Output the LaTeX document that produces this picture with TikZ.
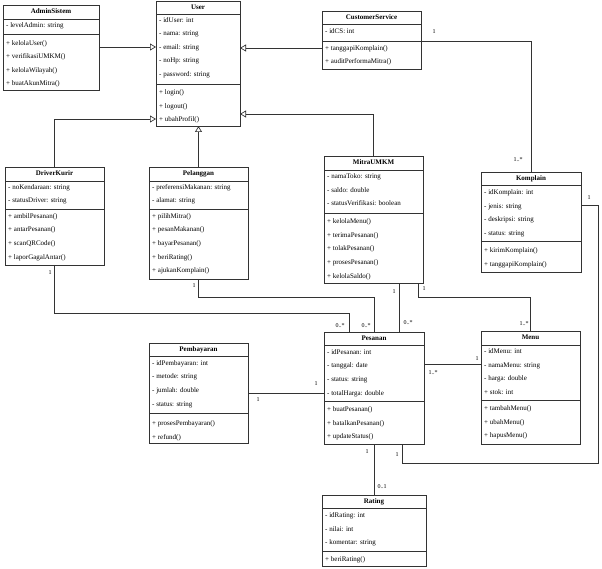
\documentclass[tikz,border=0pt]{standalone}
\usepackage{fontspec}
\setmainfont{Liberation Serif}
\usetikzlibrary{arrows.meta}
\tikzset{
 classbox/.style={draw=black!80, line width=0.7pt, fill=white, inner sep=0pt, outer sep=0pt},
 divline/.style={draw=black!80, line width=0.7pt},
 rowtext/.style={anchor=west, inner sep=0pt, font=\fontsize{7}{8}\selectfont, text height=5pt, text depth=1.6pt},
 titletext/.style={inner sep=0pt, font=\fontsize{7}{8}\selectfont\bfseries, text height=5pt, text depth=1.6pt},
 assoc/.style={draw=black!80, line width=0.7pt},
 gen/.style={assoc, -{Triangle[open, length=6pt, width=7pt]}},
 mult/.style={inner sep=0pt, font=\fontsize{6}{7}\selectfont},
}
\newcommand\umlclass[8]{%
  \node[classbox, minimum width={#4-#2}, minimum height={#5-#3}] (#1) at ({(#2+#4)/2},{(#3+#5)/2}) {};
  \node[titletext] (#1-title) at ({(#2+#4)/2},{(#3+#7)/2}) {#6};
  \draw[divline] (#1.west |- 0,#7) -- (#1.east |- 0,#7);
  \draw[divline] (#1.west |- 0,#8) -- (#1.east |- 0,#8);
}
\newcommand\umlrows[4]{%
  \foreach \t [count=\i] in {#4} {\node[rowtext] (#1\i) at ({#2+3},{#3+(\i-1)*13.6}) {\t};}
}
\begin{document}
\begin{tikzpicture}[x=1pt,y=-1pt]
\fill[white] (0,0) rectangle (602,569);
\useasboundingbox (0,0) rectangle (602,569);

% classes
\umlclass{admin}{3}{5}{99}{90}{AdminSistem}{19}{34}
\umlrows{admin-a}{3}{26}{- levelAdmin: string}
\umlrows{admin-m}{3}{43.5}{+ kelolaUser(),+ verifikasiUMKM(),+ kelolaWilayah(),+ buatAkunMitra()}

\umlclass{user}{156}{1}{240}{126}{User}{14}{84}
\umlrows{user-a}{156}{20.5}{- idUser: int,- nama: string,- email: string,- noHp: string,- password: string}
\umlrows{user-m}{156}{93}{+ login(),+ logout(),+ ubahProfil()}

\umlclass{cs}{322}{11}{421}{69}{CustomerService}{24}{41}
\umlrows{cs-a}{322}{32}{- idCS: int}
\umlrows{cs-m}{322}{48.5}{+ tanggapiKomplain(),+ auditPerformaMitra()}

\umlclass{driver}{5}{167}{104}{265}{DriverKurir}{181}{209}
\umlrows{driver-a}{5}{187.5}{- noKendaraan: string,- statusDriver: string}
\umlrows{driver-m}{5}{216.5}{+ ambilPesanan(),+ antarPesanan(),+ scanQRCode(),+ laporGagalAntar()}

\umlclass{pelanggan}{149}{167}{248}{279}{Pelanggan}{181}{209}
\umlrows{pelanggan-a}{149}{187.5}{- preferensiMakanan: string,- alamat: string}
\umlrows{pelanggan-m}{149}{216.5}{+ pilihMitra(),+ pesanMakanan(),+ bayarPesanan(),+ beriRating(),+ ajukanKomplain()}

\umlclass{mitra}{324}{156}{423}{283}{MitraUMKM}{170}{213}
\umlrows{mitra-a}{324}{177}{- namaToko: string,- saldo: double,- statusVerifikasi: boolean}
\umlrows{mitra-m}{324}{222}{+ kelolaMenu(),+ terimaPesanan(),+ tolakPesanan(),+ prosesPesanan(),+ kelolaSaldo()}

\umlclass{komplain}{481}{172}{581}{272}{Komplain}{185}{241}
\umlrows{komplain-a}{481}{193}{- idKomplain: int,- jenis: string,- deskripsi: string,- status: string}
\umlrows{komplain-m}{481}{251}{+ kirimKomplain(),+ tanggapiKomplain()}

\umlclass{pembayaran}{149}{343}{248}{443}{Pembayaran}{356}{413}
\umlrows{pembayaran-a}{149}{363.5}{- idPembayaran: int,- metode: string,- jumlah: double,- status: string}
\umlrows{pembayaran-m}{149}{424}{+ prosesPembayaran(),+ refund()}

\umlclass{pesanan}{324}{332}{424}{444}{Pesanan}{345}{401}
\umlrows{pesanan-a}{324}{352.5}{- idPesanan: int,- tanggal: date,- status: string,- totalHarga: double}
\umlrows{pesanan-m}{324}{410}{+ buatPesanan(),+ batalkanPesanan(),+ updateStatus()}

\umlclass{menu}{481}{331}{580}{444}{Menu}{345}{400}
\umlrows{menu-a}{481}{352}{- idMenu: int,- namaMenu: string,- harga: double,+ stok: int}
\umlrows{menu-m}{481}{409}{+ tambahMenu(),+ ubahMenu(),+ hapusMenu()}

\umlclass{rating}{322}{495}{426}{566}{Rating}{508}{551}
\umlrows{rating-a}{322}{516}{- idRating: int,- nilai: int,- komentar: string}
\umlrows{rating-m}{322}{559.5}{+ beriRating()}

% generalizations
\draw[gen] (admin.east |- 0,47) -- (user.west |- 0,47);
\draw[gen] (cs.west |- 0,48) -- (user.east |- 0,48);
\draw[gen] (driver.north) |- (user.west |- 0,119);
\draw[gen] (pelanggan.north) -- (pelanggan.north |- user.south);
\draw[gen] (mitra.north) |- (user.east |- 0,114);

% associations
\draw[assoc] (cs.east |- 0,41) -| (komplain.north);
\draw[assoc] (driver.south) -- ++(0,48) -| ([xshift=25pt]pesanan.north west);
\draw[assoc] (pelanggan.south) -- ++(0,18) -| (pesanan.north);
\draw[assoc] ([xshift=75pt]mitra.south west) -- ([xshift=75pt]pesanan.north west);
\draw[assoc] ([xshift=94pt]mitra.south west) -- ++(0,14) -| (menu.north);
\draw[assoc] (pesanan.east |- 0,364) -- (menu.west |- 0,364);
\draw[assoc] (pembayaran.east |- 0,393) -- (pesanan.west |- 0,393);
\draw[assoc] (pesanan.south) -- (rating.north);
\draw[assoc] ([xshift=78pt]pesanan.south west) -- ++(0,19) -- ++(196,0) |- (komplain.east |- 0,205);

% multiplicities
\node[mult] (l1) at (434,32) {1};
\node[mult] (l2) at (518,160) {1..*};
\node[mult] (l3) at (50,273) {1};
\node[mult] (l4) at (340,326) {0..*};
\node[mult] (l5) at (194,286) {1};
\node[mult] (l6) at (366,326) {0..*};
\node[mult] (l7) at (394,292) {1};
\node[mult] (l8) at (408,323) {0..*};
\node[mult] (l9) at (424,289) {1};
\node[mult] (l10) at (524,324) {1..*};
\node[mult] (l11) at (433,373) {1..*};
\node[mult] (l12) at (477,359) {1};
\node[mult] (l13) at (258,400) {1};
\node[mult] (l14) at (316,384) {1};
\node[mult] (l15) at (367,452) {1};
\node[mult] (l16) at (382,487) {0..1};
\node[mult] (l17) at (397,455) {1};
\node[mult] (l18) at (589,198) {1};
\end{tikzpicture}
\end{document}
